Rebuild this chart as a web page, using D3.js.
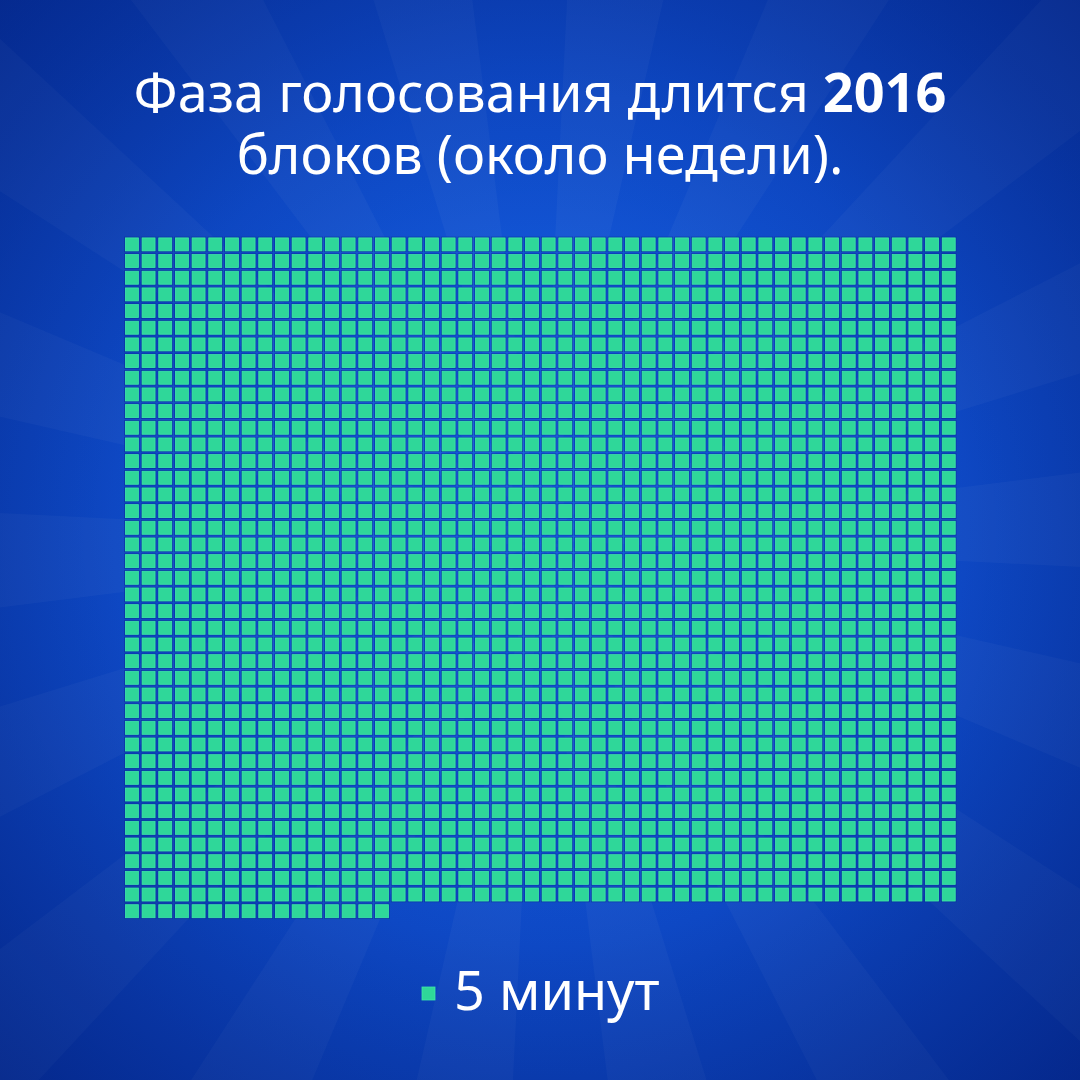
<!DOCTYPE html>
<html>
<head>
<meta charset="utf-8">
<script src="https://cdn.jsdelivr.net/npm/d3@7"></script>
<style>
html,body{margin:0;padding:0;background:#0a3aa8;}
svg{display:block;}
</style>
</head>
<body>
<svg id="chart" width="1080" height="1080"></svg>
<script>
// ---- data ----
const titleLine1 = ["Фаза голосования длится ", "2016"];
const titleLine2 = "блоков (около недели).";
const totalBlocks = 2016;      // blocks in the voting phase
const blocksPerRow = 50;       // squares per row of the grid
const legendLabel = "5 минут"; // one square = one block ≈ 5 minutes

// ---- setup ----
const W = 1080, H = 1080;
const svg = d3.select("#chart");
const defs = svg.append("defs");

const bg = defs.append("radialGradient").attr("id", "bg")
  .attr("cx", "50%").attr("cy", "48%").attr("r", "72%");
bg.append("stop").attr("offset", "0%").attr("stop-color", "#1660e0");
bg.append("stop").attr("offset", "55%").attr("stop-color", "#0f4ccb");
bg.append("stop").attr("offset", "100%").attr("stop-color", "#07309c");
svg.append("rect").attr("width", W).attr("height", H).attr("fill", "url(#bg)");

// sunburst rays
const rayCount = 36;
const cx = 540, cy = 540, R = 1000;
const rayArc = d3.arc().innerRadius(0).outerRadius(R);
const rays = svg.append("g").attr("transform", `translate(${cx},${cy})`);
rays.selectAll("path").data(d3.range(rayCount).filter(i => i % 2 === 0))
  .join("path")
  .attr("d", i => rayArc({startAngle: i * 2 * Math.PI / rayCount + 0.05, endAngle: (i + 1) * 2 * Math.PI / rayCount + 0.05}))
  .attr("fill", "#ffffff").attr("fill-opacity", 0.035);

// vignette for darker corners
const vg = defs.append("radialGradient").attr("id", "vg")
  .attr("cx", "50%").attr("cy", "50%").attr("r", "71%");
vg.append("stop").attr("offset", "40%").attr("stop-color", "#001a70").attr("stop-opacity", 0);
vg.append("stop").attr("offset", "100%").attr("stop-color", "#001a70").attr("stop-opacity", 0.35);
svg.append("rect").attr("width", W).attr("height", H).attr("fill", "url(#vg)");

// ---- title ----
const font = "'Noto Sans', 'Open Sans', sans-serif";
const fs = 54;
const title = svg.append("text")
  .attr("text-anchor", "middle").attr("fill", "#ffffff")
  .style("font-family", font).style("font-size", fs + "px");
const t1 = title.append("tspan").attr("x", 540).attr("y", 112);
t1.append("tspan").text(titleLine1[0]);
t1.append("tspan").attr("font-weight", 700).text(titleLine1[1]);
title.append("tspan").attr("x", 540).attr("y", 174).text(titleLine2);

// ---- grid ----
const nRows = Math.ceil(totalBlocks / blocksPerRow);
const x = d3.scaleLinear().domain([0, blocksPerRow]).range([125, 958.5]);
const y = d3.scaleLinear().domain([0, nRows]).range([237.5, 237.5 + nRows * 16.67]);
const size = 13.8;

const blocks = d3.range(totalBlocks);
const grid = svg.append("g");
// dark halo behind each square
grid.selectAll("rect.halo").data(blocks).join("rect").attr("class", "halo")
  .attr("x", i => x(i % blocksPerRow) - 0.8)
  .attr("y", i => y(Math.floor(i / blocksPerRow)) - 0.8)
  .attr("width", size + 1.6).attr("height", size + 1.6)
  .attr("fill", "#0a2f9c").attr("fill-opacity", 0.8);
grid.selectAll("rect.sq").data(blocks).join("rect").attr("class", "sq")
  .attr("x", i => x(i % blocksPerRow) + 0.4)
  .attr("y", i => y(Math.floor(i / blocksPerRow)) + 0.4)
  .attr("width", size - 0.8).attr("height", size - 0.8)
  .attr("fill", "#2fd799")
  .attr("stroke", "#3ee9a9").attr("stroke-width", 0.8);

// ---- legend ----
const legend = svg.append("g");
legend.append("rect").attr("x", 422).attr("y", 987).attr("width", 13).attr("height", 13)
  .attr("fill", "#2fd799").attr("stroke", "#3ee8a8").attr("stroke-width", 0.8);
legend.append("text").attr("x", 454).attr("y", 1010)
  .attr("fill", "#ffffff").style("font-family", font).style("font-size", fs + "px")
  .text(legendLabel);
</script>
</body>
</html>
